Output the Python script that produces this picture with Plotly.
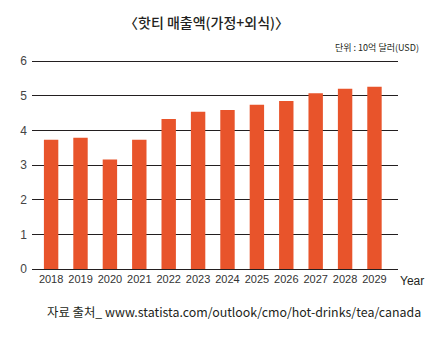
import plotly.graph_objects as go

years = ["2018", "2019", "2020", "2021", "2022", "2023",
         "2024", "2025", "2026", "2027", "2028", "2029"]
revenue = [3.73, 3.79, 3.16, 3.73, 4.33, 4.54, 4.59, 4.74, 4.85, 5.07, 5.20, 5.26]
y_ticks = [0, 1, 2, 3, 4, 5, 6]

title_text = "〈핫티 매출액(가정+외식)〉"
unit_text = "단위 : 10억 달러(USD)"
source_text = "자료 출처_ www.statista.com/outlook/cmo/hot-drinks/tea/canada"

BAR = "#E8542B"
INK = "#231F20"
FONT = "Noto Sans CJK KR, Liberation Sans, sans-serif"

W, H = 446, 345
ml, mr, mt, mb = 32, 48, 60, 76
pw, ph = W - ml - mr, H - mt - mb
y_top = 6.03


def px_to_paper(px, py):
    """Pixel position on the page -> paper coordinates."""
    return (px - ml) / pw, (H - mb - py) / ph


fig = go.Figure(go.Bar(x=years, y=revenue, marker=dict(color=BAR, line=dict(width=0))))

fig.update_layout(
    width=W, height=H,
    margin=dict(l=ml, r=mr, t=mt, b=mb),
    paper_bgcolor="white", plot_bgcolor="white",
    bargap=0.51,
    showlegend=False,
    font=dict(family=FONT, color=INK),
)
fig.update_xaxes(
    type="category", range=[-0.65, 11.8],
    showgrid=False, showline=False, ticks="",
    tickfont=dict(family="Liberation Sans, sans-serif", size=11, color="#333"),
    ticklabelstandoff=2,
)
fig.update_yaxes(
    range=[0, y_top], tickvals=y_ticks,
    showgrid=True, gridcolor=INK, gridwidth=1.2,
    zeroline=True, zerolinecolor=INK, zerolinewidth=1.3,
    showline=False, ticks="",
    tickfont=dict(family="Liberation Sans, sans-serif", size=12, color="#444"),
    ticklabelstandoff=4,
)

labels = [
    (title_text, 206, 22, "center", 14, FONT, 500),
    (unit_text, 421, 47, "right", 9, FONT, 400),
    ("Year", 412, 281, "center", 12, "Liberation Sans, sans-serif", 400),
    (source_text, 234, 312, "center", 12.4, FONT, 400),
]
for text, px, py, xa, size, fam, wt in labels:
    x, y = px_to_paper(px, py)
    fig.add_annotation(text=text, x=x, y=y, xref="paper", yref="paper",
                       xanchor=xa, yanchor="middle", showarrow=False,
                       font=dict(size=size, color=INK, family=fam, weight=wt))

fig.write_html("out.html")
